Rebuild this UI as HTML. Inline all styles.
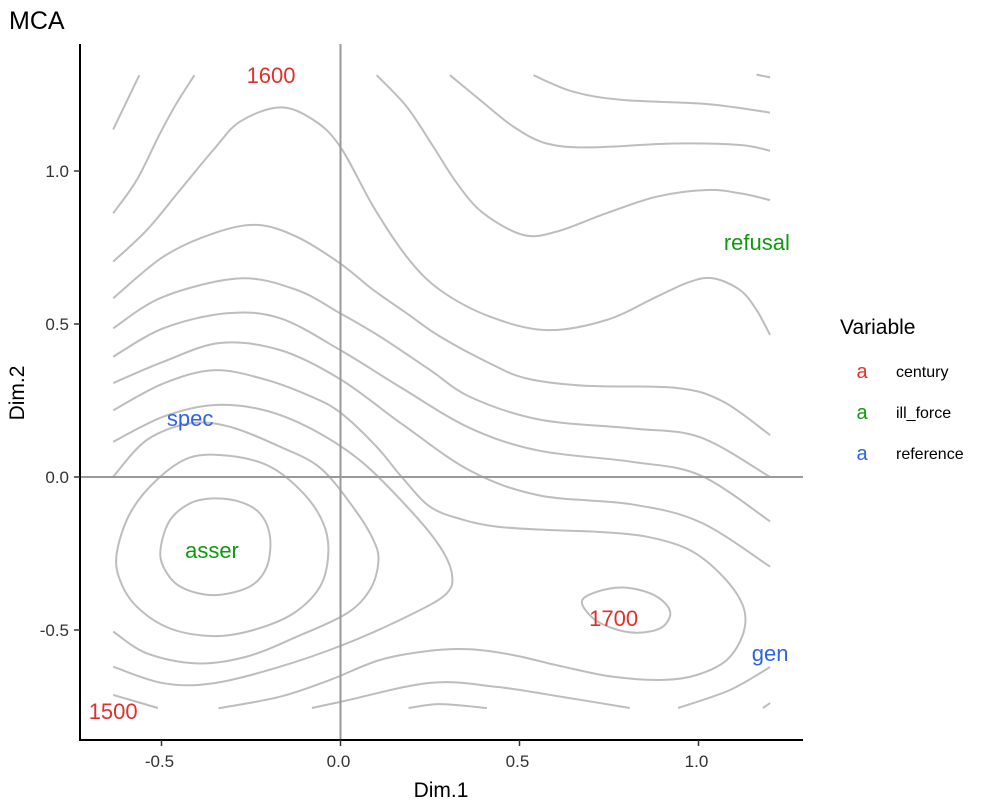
<!DOCTYPE html>
<html><head><meta charset="utf-8"><style>
body{margin:0;background:#fff;width:986px;height:801px;overflow:hidden;font-family:"Liberation Sans",Arial,sans-serif}
svg text{font-family:"Liberation Sans",Arial,sans-serif}
</style></head><body>
<svg id="chart" width="986" height="801" viewBox="0 0 986 801" xmlns="http://www.w3.org/2000/svg">
<text x="9" y="29" font-size="25" fill="#000">MCA</text>
<g id="contours"></g>
<g id="reflines"></g>
<g id="axes"></g>
<g id="labels"></g>
<text x="441" y="797" font-size="21" text-anchor="middle" fill="#000">Dim.1</text>
<text transform="translate(24,393) rotate(-90)" font-size="21" text-anchor="middle" fill="#000">Dim.2</text>
<g>
<text x="840" y="334" font-size="21" fill="#000">Variable</text>
<g><text x="862" y="378" font-size="20" text-anchor="middle" fill="#E0312F">a</text><text x="896" y="377" font-size="16" fill="#000">century</text></g>
<g><text x="862" y="419" font-size="20" text-anchor="middle" fill="#0E9A0E">a</text><text x="896" y="418" font-size="16" fill="#000">ill_force</text></g>
<g><text x="862" y="460" font-size="20" text-anchor="middle" fill="#2E64E0">a</text><text x="896" y="459" font-size="16" fill="#000">reference</text></g>
</g>
</svg>
<script>
const xTicks=[-0.5,0,0.5,1.0];
const xTickLabels=["-0.5","0.0","0.5","1.0"];
const yTicks=[-0.5,0,0.5,1.0];
const yTickLabels=["-0.5","0.0","0.5","1.0"];
const labelNames=["1500","1600","1700","asser","refusal","gen","spec"];
const labelVars=["century","century","century","ill_force","ill_force","reference","reference"];
const labelX=[-0.635,-0.194,0.763,-0.359,1.163,1.20,-0.42];
const labelY=[-0.765,1.314,-0.46,-0.239,0.768,-0.575,0.193];
const contourLines=[
 {c:false,p:[[-0.635,1.136],[-0.562,1.313]]},
 {c:false,p:[[-0.635,0.862],[-0.569,0.971],[-0.504,1.123],[-0.458,1.221],[-0.408,1.313]]},
 {c:false,p:[[-0.635,0.704],[-0.541,0.807],[-0.448,0.938],[-0.355,1.069],[-0.281,1.161],[-0.169,1.208],[-0.076,1.167],[-0.001,1.080],[0.092,0.883],[0.185,0.720],[0.278,0.611],[0.418,0.524],[0.576,0.480],[0.743,0.513],[0.883,0.589],[0.976,0.638],[1.042,0.649],[1.116,0.611],[1.162,0.546],[1.2,0.464]]},
 {c:false,p:[[0.101,1.313],[0.185,1.210],[0.259,1.080],[0.325,0.960],[0.399,0.862],[0.511,0.791],[0.604,0.802],[0.743,0.862],[0.883,0.916],[1.023,0.938],[1.116,0.927],[1.2,0.905]]},
 {c:false,p:[[0.306,1.313],[0.390,1.232],[0.483,1.145],[0.576,1.090],[0.697,1.077],[0.930,1.090],[1.116,1.085],[1.2,1.066]]},
 {c:false,p:[[0.539,1.313],[0.650,1.259],[0.790,1.232],[1.023,1.219],[1.2,1.191]]},
 {c:false,p:[[1.162,1.315],[1.2,1.306]]},
 {c:false,p:[[-0.635,0.584],[-0.495,0.720],[-0.355,0.796],[-0.234,0.824],[-0.122,0.785],[-0.001,0.698],[0.092,0.611],[0.185,0.535],[0.278,0.459],[0.418,0.371],[0.520,0.322],[0.683,0.298],[0.940,0.291],[1.068,0.247],[1.2,0.137]]},
 {c:false,p:[[-0.635,0.486],[-0.495,0.589],[-0.281,0.649],[-0.122,0.611],[-0.001,0.535],[0.110,0.459],[0.250,0.350],[0.363,0.261],[0.555,0.188],[0.812,0.159],[1.004,0.130],[1.2,0.0]]},
 {c:false,p:[[-0.635,0.393],[-0.495,0.486],[-0.318,0.535],[-0.169,0.519],[-0.001,0.415],[0.171,0.291],[0.363,0.159],[0.555,0.086],[0.812,0.050],[1.004,0.006],[1.2,-0.145]]},
 {c:false,p:[[-0.635,0.307],[-0.496,0.376],[-0.337,0.438],[-0.169,0.415],[-0.001,0.32],[0.171,0.174],[0.363,0.020],[0.555,-0.060],[0.812,-0.089],[1.004,-0.147],[1.2,-0.293]]},
 {c:false,p:[[-0.635,0.218],[-0.496,0.305],[-0.355,0.349],[-0.214,0.320],[-0.086,0.265],[0.0,0.21],[0.1,0.10],[0.171,0.0],[0.250,-0.097],[0.343,-0.140],[0.436,-0.162],[0.576,-0.173],[0.716,-0.179],[0.855,-0.195],[0.976,-0.239],[1.069,-0.326],[1.125,-0.424],[1.125,-0.511],[1.079,-0.598],[0.995,-0.647],[0.902,-0.663],[0.762,-0.653],[0.622,-0.620],[0.483,-0.582],[0.362,-0.563],[0.250,-0.568],[0.110,-0.598],[-0.029,-0.663],[-0.169,-0.718],[-0.341,-0.756]]},
 {c:false,p:[[-0.635,0.115],[-0.495,0.197],[-0.355,0.235],[-0.215,0.219],[-0.076,0.154],[0.064,0.045],[0.203,-0.119],[0.278,-0.228],[0.311,-0.315],[0.297,-0.380],[0.203,-0.446],[0.017,-0.544],[-0.169,-0.620],[-0.355,-0.674],[-0.495,-0.674],[-0.635,-0.620]]},
 {c:false,p:[[-0.635,0.001],[-0.541,0.121],[-0.420,0.175],[-0.309,0.164],[-0.169,0.099],[-0.057,0.03],[0.036,-0.10],[0.092,-0.206],[0.106,-0.277],[0.082,-0.369],[0.017,-0.446],[-0.122,-0.522],[-0.262,-0.587],[-0.402,-0.609],[-0.541,-0.576],[-0.635,-0.505]]},
 {c:true,p:[[-0.625,-0.249],[-0.588,-0.119],[-0.514,-0.010],[-0.420,0.064],[-0.309,0.069],[-0.197,0.034],[-0.104,-0.053],[-0.048,-0.151],[-0.034,-0.249],[-0.057,-0.358],[-0.132,-0.446],[-0.243,-0.500],[-0.355,-0.520],[-0.476,-0.495],[-0.569,-0.424],[-0.616,-0.337]]},
 {c:true,p:[[-0.502,-0.228],[-0.476,-0.141],[-0.420,-0.086],[-0.355,-0.070],[-0.281,-0.081],[-0.225,-0.119],[-0.197,-0.195],[-0.206,-0.293],[-0.253,-0.358],[-0.355,-0.386],[-0.448,-0.358],[-0.495,-0.293]]},
 {c:true,p:[[0.674,-0.407],[0.716,-0.375],[0.790,-0.361],[0.865,-0.380],[0.911,-0.418],[0.920,-0.456],[0.892,-0.495],[0.827,-0.509],[0.762,-0.495],[0.706,-0.462]]},
 {c:false,p:[[-0.635,-0.712],[-0.510,-0.755]]},
 {c:false,p:[[-0.080,-0.755],[0,-0.735],[0.250,-0.673],[0.437,-0.686],[0.621,-0.719],[0.808,-0.755]]},
 {c:false,p:[[0.943,-0.755],[1.088,-0.696],[1.2,-0.621]]},
 {c:false,p:[[0.190,-0.755],[0.278,-0.742],[0.409,-0.755]]},
 {c:false,p:[[1.180,-0.755],[1.2,-0.739]]}
];
const colorFor={century:"#E0312F",ill_force:"#0E9A0E",reference:"#2E64E0"};
const NS="http://www.w3.org/2000/svg";
const X0=340.5,XS=358,Y0=477,YS=306;
function sx(v){return X0+XS*v;}
function sy(v){return Y0-YS*v;}
function mk(t,a,parent){const e=document.createElementNS(NS,t);for(const k in a)e.setAttribute(k,a[k]);parent.appendChild(e);return e;}
function smoothPath(pts,closed){
 const P=pts.map(p=>[sx(p[0]),sy(p[1])]);const n=P.length;
 if(n<3){return "M"+P.map(p=>p[0].toFixed(1)+","+p[1].toFixed(1)).join(" L");}
 let d="M"+P[0][0].toFixed(1)+","+P[0][1].toFixed(1);
 const g=i=>closed?P[(i+n)%n]:P[Math.max(0,Math.min(n-1,i))];
 const segs=closed?n:n-1;
 for(let i=0;i<segs;i++){
  const p0=g(i-1),p1=g(i),p2=g(i+1),p3=g(i+2);
  const c1=[p1[0]+(p2[0]-p0[0])/6,p1[1]+(p2[1]-p0[1])/6];
  const c2=[p2[0]-(p3[0]-p1[0])/6,p2[1]-(p3[1]-p1[1])/6];
  d+=" C"+c1[0].toFixed(1)+","+c1[1].toFixed(1)+" "+c2[0].toFixed(1)+","+c2[1].toFixed(1)+" "+p2[0].toFixed(1)+","+p2[1].toFixed(1);
 }
 if(closed)d+="Z";
 return d;
}
const cg=document.getElementById("contours");
contourLines.forEach((c,i)=>{
 const el=mk("path",{d:smoothPath(c.p,c.c),fill:"none",stroke:"#bdbdbd","stroke-width":"2"},cg);
 
 
});
const rg=document.getElementById("reflines");
const vl=mk("line",{x1:sx(0),x2:sx(0),y1:44,y2:740,stroke:"#999","stroke-width":"2"},rg);


const hl=mk("line",{x1:80,x2:803,y1:sy(0),y2:sy(0),stroke:"#999","stroke-width":"2"},rg);


const ag=document.getElementById("axes");
const xa=mk("line",{x1:79,x2:803,y1:740,y2:740,stroke:"#000","stroke-width":"2"},ag);


const ya=mk("line",{x1:80,x2:80,y1:44,y2:741,stroke:"#000","stroke-width":"2"},ag);


xTicks.forEach((v,i)=>{
 const t=mk("line",{x1:sx(v),x2:sx(v),y1:740,y2:746,stroke:"#333","stroke-width":"1.5"},ag);
 
 
 const l=mk("text",{x:sx(v)-2,y:767,"font-size":"17","text-anchor":"middle",fill:"#333"},ag);
 l.textContent=xTickLabels[i];
 
 
});
yTicks.forEach((v,i)=>{
 const t=mk("line",{x1:74,x2:80,y1:sy(v),y2:sy(v),stroke:"#333","stroke-width":"1.5"},ag);
 
 
 const l=mk("text",{x:69,y:sy(v)+6,"font-size":"17","text-anchor":"end",fill:"#333"},ag);
 l.textContent=yTickLabels[i];
 
 
});
const lg=document.getElementById("labels");
labelNames.forEach((n,i)=>{
 const t=mk("text",{x:sx(labelX[i]),y:sy(labelY[i])+8,"font-size":"22","text-anchor":"middle",fill:colorFor[labelVars[i]]},lg);
 t.textContent=n;
 
 
});
</script>
</body></html>
